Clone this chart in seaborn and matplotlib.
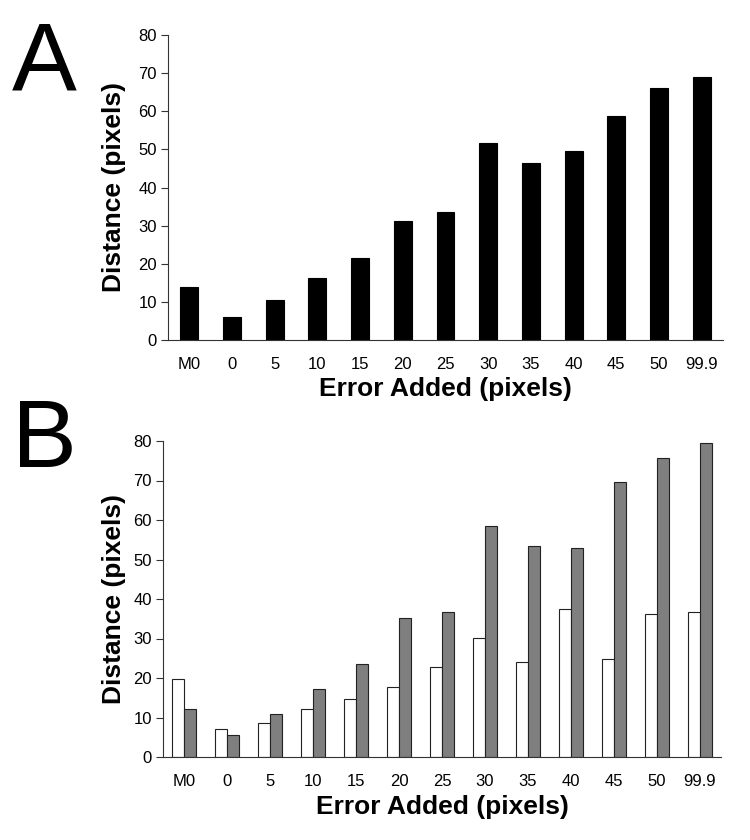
import matplotlib
matplotlib.use("Agg")
import matplotlib.pyplot as plt
import seaborn as sns
import pandas as pd
import numpy as np

categories = ["M0", "0", "5", "10", "15", "20", "25", "30", "35", "40", "45", "50", "99.9"]
dist_a = [14.0, 6.0, 10.5, 16.2, 21.5, 31.2, 33.5, 51.8, 46.4, 49.6, 58.8, 66.2, 69.0]
dist_b_white = [19.8, 7.0, 8.6, 12.1, 14.6, 17.7, 22.7, 30.1, 24.1, 37.5, 24.9, 36.3, 36.6]
dist_b_gray = [12.2, 5.5, 11.0, 17.3, 23.5, 35.3, 36.7, 58.4, 53.4, 53.0, 69.6, 75.6, 79.4]
y_ticks = [0, 10, 20, 30, 40, 50, 60, 70, 80]

sns.set_style("white")
plt.rcParams["font.family"] = ["Liberation Sans", "DejaVu Sans"]
plt.rcParams["text.color"] = "black"
plt.rcParams["xtick.color"] = "black"
plt.rcParams["ytick.color"] = "black"
plt.rcParams["axes.labelcolor"] = "black"

W, H = 750, 840
fig = plt.figure(figsize=(7.5, 8.4), dpi=100)
ax_a = fig.add_axes([168/W, 1-340/H, (723-168)/W, (340-35)/H])
ax_b = fig.add_axes([163/W, 1-757/H, (721-163)/W, (757-441)/H])

df_a = pd.DataFrame({"cat": categories, "val": dist_a})
sns.barplot(data=df_a, x="cat", y="val", order=categories, color="black",
            edgecolor="black", linewidth=0.8, width=0.42, ax=ax_a, saturation=1)

df_b = pd.DataFrame({
    "cat": categories * 2,
    "val": dist_b_white + dist_b_gray,
    "series": ["white"] * len(categories) + ["gray"] * len(categories),
})
sns.barplot(data=df_b, x="cat", y="val", hue="series", order=categories,
            hue_order=["white", "gray"], palette={"white": "white", "gray": "#7f7f7f"},
            edgecolor="#222222", linewidth=0.8, width=0.56, ax=ax_b, saturation=1,
            legend=False)

ylab_x = {ax_a: (114-168)/(723-168), ax_b: (114-163)/(721-163)}
xlab_y = {ax_a: (340-389)/(340-35), ax_b: (757-807)/(757-441)}
for ax in (ax_a, ax_b):
    ax.set_xlim(-0.5, len(categories) - 0.5)
    ax.set_ylim(0, 80)
    ax.set_yticks(y_ticks)
    ax.set_yticklabels([str(t) for t in y_ticks], fontsize=12)
    ax.set_xticks(range(len(categories)))
    ax.set_xticklabels(categories, fontsize=12)
    ax.set_xticks(np.arange(-0.5, len(categories), 1.0), minor=True)
    ax.tick_params(axis="x", which="major", length=0, pad=12)
    ax.tick_params(axis="x", which="minor", length=5, width=0.8, color="#333333", direction="out")
    ax.tick_params(axis="y", which="major", length=5, width=0.8, color="#333333", direction="out", pad=3, left=True)
    for s in ("top", "right"):
        ax.spines[s].set_visible(False)
    for s in ("left", "bottom"):
        ax.spines[s].set_color("#333333")
        ax.spines[s].set_linewidth(0.8)
    ax.set_ylabel("Distance (pixels)", fontsize=19, fontweight="bold", va="center")
    ax.set_xlabel("Error Added (pixels)", fontsize=19, fontweight="bold", va="center")
    ax.yaxis.set_label_coords(ylab_x[ax], 0.5)
    ax.xaxis.set_label_coords(0.5, xlab_y[ax])

fig.text(12/W, 1-90/H, "A", fontsize=70, ha="left", va="baseline", color="black")
fig.text(12/W, 1-467/H, "B", fontsize=70, ha="left", va="baseline", color="black")

fig.savefig("out.png", dpi=100, facecolor="white")
